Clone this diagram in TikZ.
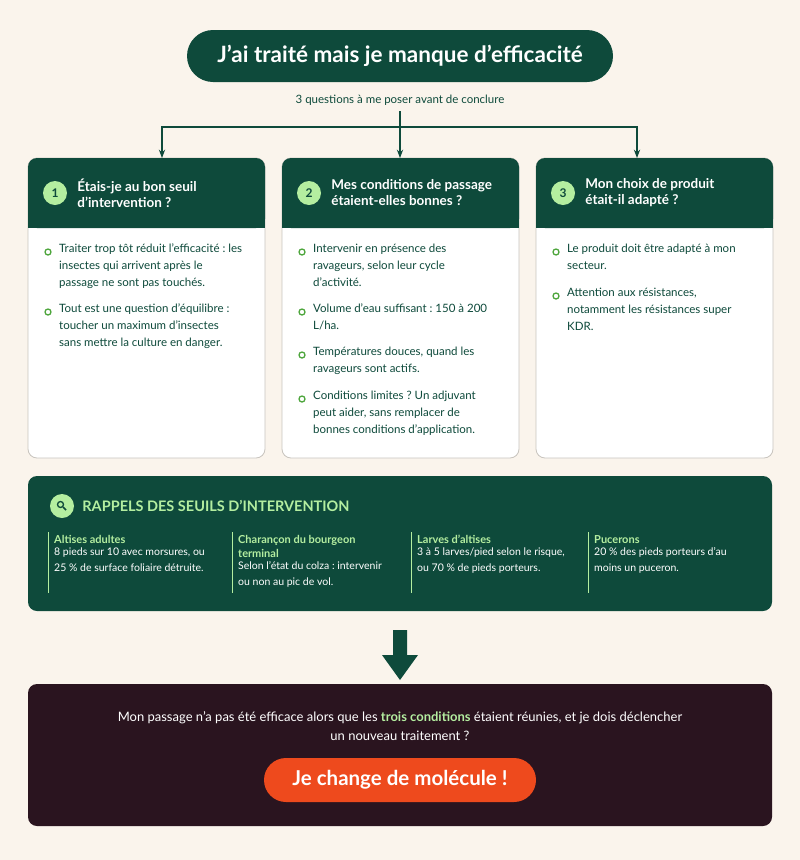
\documentclass[tikz,border=0pt]{standalone}
\usepackage{fontspec}
\setmainfont{Lato}
\usetikzlibrary{positioning, calc, arrows.meta}
\definecolor{bgcream}{HTML}{FAF4EC}
\definecolor{darkgreen}{HTML}{0E4A3B}
\definecolor{lightgreen}{HTML}{B4EEA0}
\definecolor{brightgreen}{HTML}{4FA63E}
\definecolor{darkplum}{HTML}{2A141F}
\definecolor{redorange}{HTML}{EE4A1D}
\definecolor{cardline}{HTML}{C8C4BE}
\frenchspacing

\begin{document}
\begin{tikzpicture}[x=1pt, y=-1pt, >=Stealth,
  every node/.style = {inner sep=0pt, font=\fontsize{11.5}{17}\selectfont, text=darkgreen},
  card/.style = {draw=cardline, fill=white, rounded corners=9pt, line width=0.8pt},
  cardhead/.style = {fill=darkgreen, rounded corners=9pt},
  num/.style = {circle, fill=lightgreen, minimum size=24pt, font=\fontsize{12}{12}\selectfont\bfseries, text=darkgreen},
  headtext/.style = {anchor=west, align=left, text=white, font=\fontsize{13.5}{16}\selectfont\bfseries},
  bullet/.style = {circle, draw=brightgreen, line width=1.3pt, minimum size=6pt},
  item/.style = {anchor=north west, align=left},
  seuil/.style = {anchor=north west, align=left, text=white, font=\fontsize{10.5}{16}\selectfont},
  seuiltitle/.style = {anchor=north west, align=left, text=lightgreen, font=\fontsize{11}{14}\selectfont\bfseries},
  link/.style = {->, draw=darkgreen, line width=1.2pt}]
  % background
  \fill[bgcream] (0,0) rectangle (800,860);
  \useasboundingbox (0,0) rectangle (800,860);

  % title
  \node[fill=darkgreen, rounded corners=26pt, minimum width=426pt, minimum height=52pt,
    text=white, font=\fontsize{22.5}{20}\selectfont\bfseries] (title) at (400,56)
    {J'ai traité mais je manque d'efficacité};
  \node[font=\fontsize{11.5}{12}\selectfont] (sub) at (400,100) {3 questions à me poser avant de conclure};

  % cards
  \foreach \i/\x in {1/28, 2/282, 3/536} {
    \draw[card] (\x,158) rectangle ++(237,300);
    \fill[cardhead] (\x,158) rectangle ++(237,70);
    \fill[darkgreen] (\x,210) rectangle ++(237,18);
    \node[num] (n\i) at ($(\x,193)+(27,0)$) {\i};
  }
  \coordinate (c1) at (162,158);
  \coordinate (c2) at (400,158);
  \coordinate (c3) at (637,158);
  \node[headtext, right=10pt of n1] {Étais-je au bon seuil\\d'intervention ?};
  \node[headtext, right=10pt of n2] {Mes conditions de passage\\étaient-elles bonnes ?};
  \node[headtext, right=10pt of n3] {Mon choix de produit\\était-il adapté ?};

  % connectors
  \coordinate (split) at (400,127);
  \draw[link] (sub.south) ++(0,6) -- (c2);
  \draw[link] (split) -| (c1);
  \draw[link] (split) -| (c3);

  % card items
  \foreach \x/\y/\t in {
    28/244/{Traiter trop tôt réduit l'efficacité : les\\insectes qui arrivent après le\\passage ne sont pas touchés.},
    28/304/{Tout est une question d'équilibre :\\toucher un maximum d'insectes\\sans mettre la culture en danger.},
    282/244/{Intervenir en présence des\\ravageurs, selon leur cycle\\d'activité.},
    282/304/{Volume d'eau suffisant : 150 à 200\\L/ha.},
    282/347/{Températures douces, quand les\\ravageurs sont actifs.},
    282/391/{Conditions limites ? Un adjuvant\\peut aider, sans remplacer de\\bonnes conditions d'application.},
    536/244/{Le produit doit être adapté à mon\\secteur.},
    536/288/{Attention aux résistances,\\notamment les résistances super\\KDR.}} {
    \node[bullet] at ($(\x,\y)+(20,8)$) {};
    \node[item] at ($(\x,\y)+(31,0)$) {\t};
  }

  % thresholds panel
  \fill[darkgreen, rounded corners=9pt] (28,476) rectangle (772,611);
  \node[circle, fill=lightgreen, minimum size=24pt] (loupe) at (62,506) {};
  \draw[darkgreen, line width=1.3pt] ($(loupe)+(-1.5,-1.5)$) circle (3pt);
  \draw[darkgreen, line width=1.5pt] ($(loupe)+(1,1)$) -- ($(loupe)+(4,4)$);
  \node[anchor=west, right=8pt of loupe, text=lightgreen, font=\fontsize{14.5}{14}\selectfont\bfseries]
    {RAPPELS DES SEUILS D'INTERVENTION};
  \foreach \x/\h/\t in {
    48/{Altises adultes}/{8 pieds sur 10 avec morsures, ou\\25 \% de surface foliaire détruite.},
    232/{Charançon du bourgeon\\terminal}/{Selon l'état du colza : intervenir\\ou non au pic de vol.},
    411/{Larves d'altises}/{3 à 5 larves/pied selon le risque,\\ou 70 \% de pieds porteurs.},
    588/{Pucerons}/{20 \% des pieds porteurs d'au\\moins un puceron.}} {
    \draw[lightgreen, line width=1pt] (\x,532) -- (\x,593);
    \node[seuiltitle] (h\x) at (\x+6,535) {\h};
    \node[seuil, below=4pt of h\x.south west, anchor=north west] {\t};
  }

  % big arrow
  \fill[darkgreen] (393,630) -- (407,630) -- (407,655) -- (418,655) -- (400,680)
    -- (382,655) -- (393,655) -- cycle;

  % conclusion panel
  \fill[darkplum, rounded corners=9pt] (28,684) rectangle (772,826);
  \node[text=white, align=center, font=\fontsize{13}{19}\selectfont] (question) at (400,726)
    {Mon passage n'a pas été efficace alors que les {\color{lightgreen}\bfseries trois conditions} étaient réunies, et je dois déclencher\\un nouveau traitement ?};
  \node[fill=redorange, rounded corners=22pt, minimum width=272pt, minimum height=44pt,
    text=white, font=\fontsize{20.5}{18}\selectfont\bfseries] (change) at (400,780)
    {Je change de molécule !};
\end{tikzpicture}
\end{document}
